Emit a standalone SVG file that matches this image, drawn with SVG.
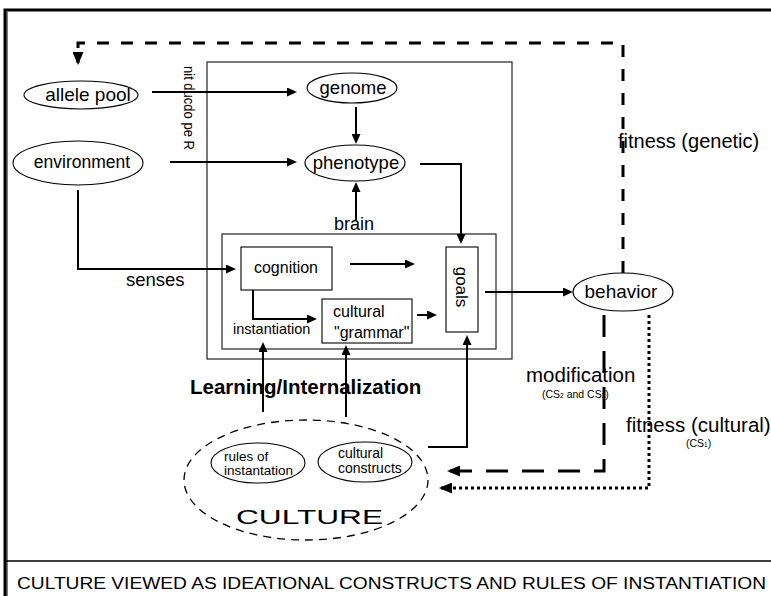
<svg xmlns="http://www.w3.org/2000/svg" width="771" height="596" viewBox="0 0 771 596">
  <style>
    text { font-family: "Liberation Sans", Arial, sans-serif; fill: #000; }
    .node { fill: #fff; stroke: #000; stroke-width: 1.1; }
    .box { fill: none; stroke: #222; stroke-width: 1.2; }
    .wire { fill: none; stroke: #000; stroke-width: 2; }
    .dash { fill: none; stroke: #000; stroke-width: 3; stroke-dasharray: 12 12; }
    .longdash { fill: none; stroke: #000; stroke-width: 3; stroke-dasharray: 22 14; }
    .dots { fill: none; stroke: #000; stroke-width: 3; stroke-dasharray: 3 3; }
    .frame { fill: none; stroke: #000; }
  </style>
  <defs>
    <marker id="arrow" markerUnits="userSpaceOnUse" markerWidth="10" markerHeight="9" refX="8" refY="4.5" orient="auto">
      <path d="M0,0 L10,4.5 L0,9 z" fill="#000"/>
    </marker>
    <marker id="bigarrow" markerUnits="userSpaceOnUse" markerWidth="13" markerHeight="11" refX="11" refY="5.5" orient="auto">
      <path d="M0,0 L13,5.5 L0,11 z" fill="#000"/>
    </marker>
  </defs>

  <rect width="771" height="596" fill="#fff"/>

  <!-- page frame and caption rule -->
  <g id="frame">
    <path class="frame" d="M5,596 V10 H771" stroke-width="3"/>
    <path class="frame" d="M7,596 V12" stroke-width="1"/>
    <path class="frame" d="M5,561 H771" stroke-width="1.5"/>
  </g>

  <!-- organism and brain containers -->
  <g id="organism">
    <rect class="box" x="207" y="62" width="305" height="297"/>
  </g>
  <g id="brain-box">
    <rect class="box" x="222" y="234" width="274" height="115"/>
  </g>

  <!-- connectors -->
  <g id="connectors">
    <path class="wire" d="M152,92 H295" marker-end="url(#arrow)"/>
    <path class="wire" d="M170,162 H295" marker-end="url(#arrow)"/>
    <path class="wire" d="M356,107 V142" marker-end="url(#arrow)"/>
    <path class="wire" d="M356,220 V184" marker-end="url(#arrow)"/>
    <path class="wire" d="M420,164 H461 V242" marker-end="url(#arrow)"/>
    <path class="wire" d="M78,190 V269 H234" marker-end="url(#arrow)"/>
    <path class="wire" d="M350,264 H413" marker-end="url(#arrow)"/>
    <path class="wire" d="M253,290 V319 H315" marker-end="url(#arrow)"/>
    <path class="wire" d="M417,315 H435" marker-end="url(#arrow)"/>
    <path class="wire" d="M485,292 H571" marker-end="url(#arrow)"/>
    <path class="wire" d="M263,412 V344" marker-end="url(#arrow)"/>
    <path class="wire" d="M346,417 V347" marker-end="url(#arrow)"/>
    <path class="wire" d="M428,447 H467 V337" marker-end="url(#arrow)"/>
    <path class="dash" d="M623,273 V43 H78 V63" marker-end="url(#bigarrow)"/>
    <path class="longdash" d="M604,315 V471 H449" marker-end="url(#bigarrow)"/>
    <path class="dots" d="M649,315 V488 H441" marker-end="url(#bigarrow)"/>
  </g>

  <g id="allele-pool">
    <ellipse class="node" cx="81" cy="95" rx="57" ry="14"/>
    <text x="88" y="101" font-size="19" text-anchor="middle">allele pool</text>
  </g>
  <g id="environment">
    <ellipse class="node" cx="78" cy="163" rx="65" ry="22"/>
    <text x="82" y="168" font-size="17.5" text-anchor="middle">environment</text>
  </g>
  <g id="reproduction-label">
    <text transform="translate(184,66) rotate(90)" font-size="14" textLength="84" lengthAdjust="spacingAndGlyphs">nit ducdo pe R</text>
  </g>
  <g id="genome">
    <ellipse class="node" cx="352" cy="88" rx="45" ry="15"/>
    <text x="353" y="94" font-size="18.5" text-anchor="middle">genome</text>
  </g>
  <g id="phenotype">
    <ellipse class="node" cx="355" cy="163" rx="50" ry="18"/>
    <text x="356" y="169" font-size="18.5" text-anchor="middle">phenotype</text>
  </g>
  <g id="brain">
    <text x="354" y="230" font-size="18" text-anchor="middle">brain</text>
  </g>
  <g id="cognition">
    <rect class="node" x="241" y="247" width="91" height="43"/>
    <text x="286" y="273" font-size="16" text-anchor="middle">cognition</text>
  </g>
  <g id="cultural-grammar">
    <rect class="node" x="322" y="299" width="90" height="44"/>
    <text x="333" y="317" font-size="16">cultural</text>
    <text x="334" y="338" font-size="16">"grammar"</text>
  </g>
  <g id="goals">
    <rect class="node" x="446" y="247" width="32" height="85"/>
    <text transform="translate(456,287) rotate(90)" font-size="17" text-anchor="middle">goals</text>
  </g>
  <g id="instantiation-label">
    <text x="233" y="334" font-size="14.5">instantiation</text>
  </g>
  <g id="senses-label">
    <text x="126" y="286" font-size="18.5">senses</text>
  </g>
  <g id="behavior">
    <ellipse class="node" cx="623" cy="292" rx="50" ry="19"/>
    <text x="621" y="298" font-size="19" text-anchor="middle">behavior</text>
  </g>
  <g id="fitness-genetic">
    <text x="618" y="148" font-size="20">fitness (genetic)</text>
  </g>
  <g id="modification">
    <text x="526" y="382" font-size="20.5">modification</text>
    <text x="542" y="398" font-size="10.5">(CS<tspan font-size="6.5">2</tspan> and CS<tspan font-size="6.5">3</tspan>)</text>
  </g>
  <g id="fitness-cultural">
    <text x="626" y="432" font-size="20.5">fitness (cultural)</text>
    <text x="686" y="447" font-size="10.5">(CS<tspan font-size="6.5">1</tspan>)</text>
  </g>
  <g id="learning">
    <text x="190" y="394" font-size="20.5" font-weight="bold">Learning/Internalization</text>
  </g>

  <g id="culture">
    <ellipse cx="306" cy="480" rx="122" ry="60" fill="none" stroke="#000" stroke-width="1.3" stroke-dasharray="8 6"/>
    <text x="236" y="524" font-size="20" textLength="147" lengthAdjust="spacingAndGlyphs">CULTURE</text>
  </g>
  <g id="rules-of-instantiation">
    <ellipse class="node" cx="258" cy="463" rx="47" ry="20"/>
    <text x="224" y="461" font-size="13.5">rules of</text>
    <text x="224" y="475" font-size="13.5">instantation</text>
  </g>
  <g id="cultural-constructs">
    <ellipse class="node" cx="365" cy="462" rx="47" ry="20"/>
    <text x="338" y="458" font-size="14">cultural</text>
    <text x="338" y="473" font-size="14">constructs</text>
  </g>

  <g id="caption">
    <text x="17" y="589" font-size="16" textLength="749" lengthAdjust="spacingAndGlyphs">CULTURE VIEWED AS IDEATIONAL CONSTRUCTS AND RULES OF INSTANTIATION</text>
  </g>
</svg>
